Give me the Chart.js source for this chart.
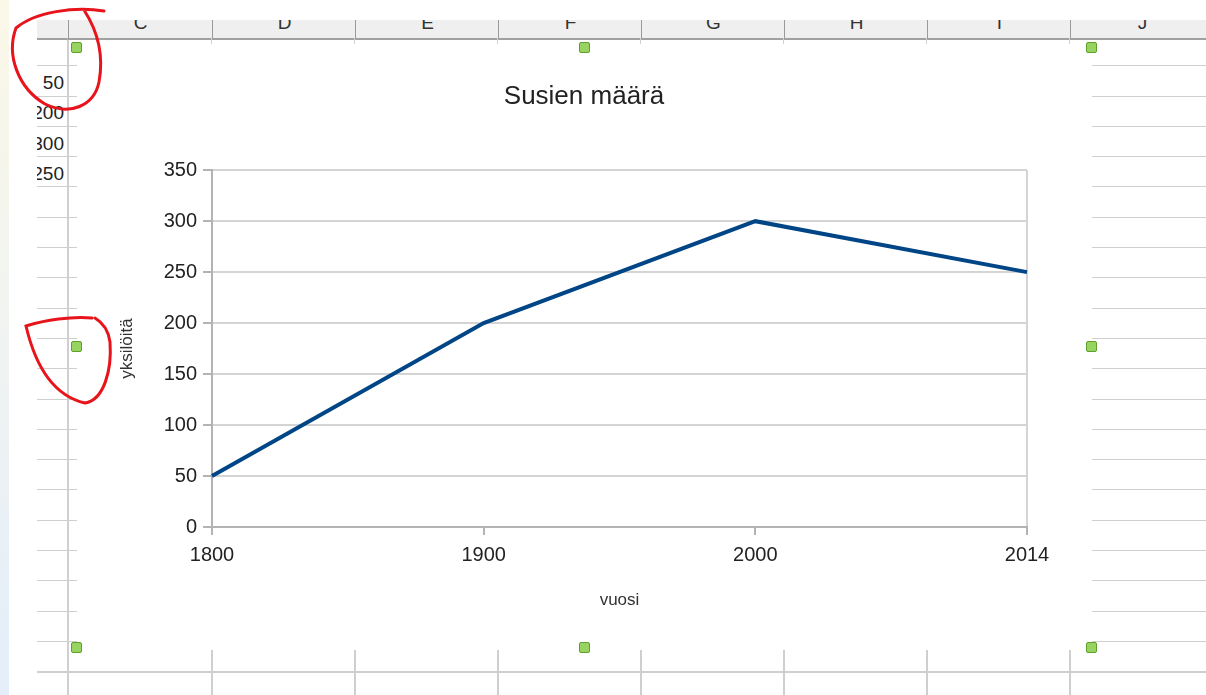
<!DOCTYPE html>
<html>
<head>
<meta charset="utf-8">
<script src="https://cdn.jsdelivr.net/npm/chart.js@4/dist/chart.umd.min.js"></script>
<style>
  body { margin: 0; width: 1206px; height: 695px; background: #fff; overflow: hidden; position: relative; font-family: 'Liberation Sans', Arial, sans-serif; }
  .abs { position: absolute; }
  #header { left: 37px; top: 20px; width: 1169px; height: 18px; background: #efefef; border-bottom: 2px solid #a0a0a0; overflow: hidden; }
  .col { position: absolute; top: -8px; width: 143px; text-align: center; font-size: 19px; color: #333; }
  .sep { position: absolute; top: 0; width: 1px; height: 18px; background: #9a9a9a; }
  .rows { background: repeating-linear-gradient(to bottom, transparent 0, transparent 29.3px, #cfcfcf 29.3px, #cfcfcf 30.3px); }
  .vline { width: 2px; background: #cfcfcf; }
  .hnd { width: 9px; height: 9px; background: #97d35f; border: 1px solid #5e9f2c; border-radius: 2px; }
  .cell { left: 37px; width: 27px; overflow: hidden; font-size: 19px; color: #222; text-align: right; white-space: nowrap; direction: rtl; }
  #wrap { left: 77px; top: 48px; width: 1014px; height: 600px; }
</style>
</head>
<body>
<div class="abs" style="left:0;top:0;width:9px;height:695px;background:linear-gradient(to bottom,#fbf8e8,#e4eefa)"></div>

<div id="header" class="abs">
  <div class="sep" style="left:31px"></div>
  <div class="sep" style="left:175px"></div>
  <div class="sep" style="left:318px"></div>
  <div class="sep" style="left:461px"></div>
  <div class="sep" style="left:604px"></div>
  <div class="sep" style="left:747px"></div>
  <div class="sep" style="left:890px"></div>
  <div class="sep" style="left:1033px"></div>
  <div class="col" style="left:32px">C</div>
  <div class="col" style="left:176px">D</div>
  <div class="col" style="left:319px">E</div>
  <div class="col" style="left:462px">F</div>
  <div class="col" style="left:605px">G</div>
  <div class="col" style="left:748px">H</div>
  <div class="col" style="left:891px">I</div>
  <div class="col" style="left:1034px">J</div>
</div>
<div class="abs" style="left:67px;top:38px;width:1px;height:6px;background:#b0b0b0"></div>
<div class="abs" style="left:211px;top:38px;width:1px;height:6px;background:#d0d0d0"></div>
<div class="abs" style="left:354px;top:38px;width:1px;height:6px;background:#d0d0d0"></div>
<div class="abs" style="left:497px;top:38px;width:1px;height:6px;background:#d0d0d0"></div>
<div class="abs" style="left:640px;top:38px;width:1px;height:6px;background:#d0d0d0"></div>
<div class="abs" style="left:783px;top:38px;width:1px;height:6px;background:#d0d0d0"></div>
<div class="abs" style="left:926px;top:38px;width:1px;height:6px;background:#d0d0d0"></div>
<div class="abs" style="left:1069px;top:38px;width:1px;height:6px;background:#d0d0d0"></div>

<!-- taulukon solujen viivat -->
<div class="abs rows" style="left:37px;top:39px;width:40px;height:633px;background-position:0 -3px"></div>
<div class="abs rows" style="left:1092px;top:39px;width:114px;height:633px;background-position:0 -3px"></div>
<div class="abs vline" style="left:67px;top:40px;height:655px"></div>
<div class="abs" style="left:37px;top:671px;width:1169px;height:2px;background:#cfcfcf"></div>
<div class="abs vline" style="left:211px;top:650px;height:45px"></div>
<div class="abs vline" style="left:354px;top:650px;height:45px"></div>
<div class="abs vline" style="left:497px;top:650px;height:45px"></div>
<div class="abs vline" style="left:640px;top:650px;height:45px"></div>
<div class="abs vline" style="left:783px;top:650px;height:45px"></div>
<div class="abs vline" style="left:926px;top:650px;height:45px"></div>
<div class="abs vline" style="left:1069px;top:650px;height:45px"></div>

<div class="abs cell" style="top:72px">50</div>
<div class="abs cell" style="top:102px">200</div>
<div class="abs cell" style="top:133px">300</div>
<div class="abs cell" style="top:163px">250</div>

<div id="wrap" class="abs"><canvas id="chartSudet" width="1014" height="600"></canvas></div>

<div class="abs hnd" style="left:71px;top:42px"></div>
<div class="abs hnd" style="left:579px;top:42px"></div>
<div class="abs hnd" style="left:1086px;top:42px"></div>
<div class="abs hnd" style="left:71px;top:341px"></div>
<div class="abs hnd" style="left:1086px;top:341px"></div>
<div class="abs hnd" style="left:71px;top:642px"></div>
<div class="abs hnd" style="left:579px;top:642px"></div>
<div class="abs hnd" style="left:1086px;top:642px"></div>

<svg class="abs" style="left:0;top:0" width="1206" height="695">
  <path d="M 104 11 C 75 6, 35 12, 16 28 C 6 55, 18 88, 45 104 C 70 116, 94 106, 99 82 C 104 55, 97 30, 84 10" fill="none" stroke="#e8141b" stroke-width="3" stroke-linecap="round"/>
  <path d="M 92 318 C 72 316, 45 320, 26 326 C 34 360, 50 395, 85 403 C 104 400, 112 370, 110 342 C 108 327, 100 321, 95 318" fill="none" stroke="#e8141b" stroke-width="3" stroke-linecap="round"/>
</svg>

<script>
// Data
const vuodet = ['1800', '1900', '2000', '2014'];
const sudet = [50, 200, 300, 250];
const yTicks = [0, 50, 100, 150, 200, 250, 300, 350];

const fontti = "'Liberation Sans', Arial, sans-serif";
const viiva = '#b3b3b3';
const ruudukko = '#d4d4d4';

const ctx = document.getElementById('chartSudet').getContext('2d');

const chart = new Chart(ctx, {
    type: 'line',
    data: {
        labels: vuodet,
        datasets: [{
            label: 'Susien määrä',
            data: sudet,
            borderColor: '#004586',
            borderWidth: 4,
            pointRadius: 0,
            tension: 0,
            fill: false
        }]
    },
    options: {
        responsive: false,
        animation: false,
        layout: {
            padding: { top: 33, left: 0, right: 0, bottom: 37 }
        },
        plugins: {
            legend: { display: false },
            tooltip: { enabled: false },
            title: {
                display: true,
                text: 'Susien määrä',
                color: '#222',
                font: { size: 26, family: fontti, weight: 'normal' },
                padding: { top: 0, bottom: 58 }
            }
        },
        scales: {
            x: {
                offset: false,
                afterFit: (scale) => { scale.height = 84; },
                ticks: {
                    color: '#222',
                    padding: 8,
                    maxRotation: 0,
                    font: { size: 20, family: fontti }
                },
                grid: {
                    color: (c) => c.index === vuodet.length - 1 ? ruudukko : 'transparent',
                    lineWidth: 2,
                    tickColor: viiva,
                    tickLength: 8
                },
                border: { color: viiva, width: 2 },
                title: {
                    display: true,
                    text: 'vuosi',
                    color: '#333',
                    font: { size: 17, family: fontti },
                    padding: 0
                }
            },
            y: {
                min: 0,
                max: 350,
                afterBuildTicks: (scale) => { scale.ticks = yTicks.map(v => ({ value: v })); },
                afterFit: (scale) => { scale.width = 135; },
                ticks: {
                    color: '#222',
                    padding: 6,
                    font: { size: 20, family: fontti }
                },
                grid: {
                    color: ruudukko,
                    lineWidth: 2,
                    tickColor: viiva,
                    tickLength: 9
                },
                border: { color: viiva, width: 2 },
                title: {
                    display: true,
                    text: 'yksilöitä',
                    color: '#333',
                    font: { size: 17, family: fontti },
                    padding: { top: 40, bottom: 0 }
                }
            },
            // tyhjä akseli oikealle, jotta otsikko keskittyy kuten kuvassa
            oikea: {
                type: 'linear',
                position: 'right',
                afterFit: (scale) => { scale.width = 64; },
                ticks: { display: false },
                grid: { display: false },
                border: { display: false }
            }
        }
    }
});
</script>
</body>
</html>
